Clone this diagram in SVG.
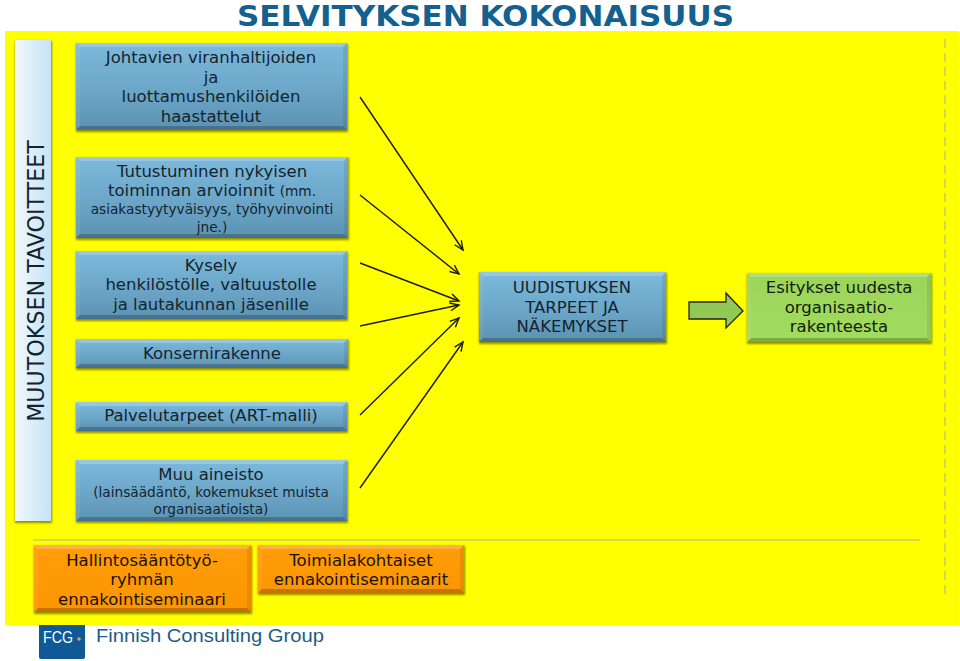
<svg xmlns="http://www.w3.org/2000/svg" width="960" height="661" viewBox="0 0 960 661">
<style>
text{font-family:"DejaVu Sans",Verdana,sans-serif;text-anchor:middle;fill:#14242e;font-size:16.5px}
.s{font-size:13.700px}
.o{fill:#1a1200}
.g{fill:#102010}
.c line{stroke:#1c1c08;stroke-width:1.400;fill:none;marker-end:url(#ah)}
.sh{fill:#000;opacity:.45;filter:url(#bl)}
.top{fill:#fff;opacity:.22}
.bot{fill:#000;opacity:.22}
.sd{fill:#fff;opacity:.07}
.sdd{fill:#000;opacity:.08}
</style>
<defs>
<linearGradient id="bg" x1="0" y1="0" x2="0" y2="1"><stop offset="0" stop-color="#7cb9dc"/><stop offset=".5" stop-color="#6da8ca"/><stop offset="1" stop-color="#5c92b2"/></linearGradient>
<linearGradient id="og" x1="0" y1="0" x2="0" y2="1"><stop offset="0" stop-color="#ff9d0a"/><stop offset="1" stop-color="#fb9600"/></linearGradient>
<linearGradient id="gg" x1="0" y1="0" x2="0" y2="1"><stop offset="0" stop-color="#9bd45a"/><stop offset="1" stop-color="#a2dc5e"/></linearGradient>
<linearGradient id="vg" x1="0" y1="0" x2="1" y2="0"><stop offset="0" stop-color="#f2f9fd"/><stop offset="1" stop-color="#c4e3f6"/></linearGradient>
<filter id="bl" x="-5%" y="-10%" width="110%" height="125%"><feGaussianBlur stdDeviation="1"/></filter>
<marker id="ah" markerUnits="userSpaceOnUse" markerWidth="14" markerHeight="14" refX="10" refY="7" orient="auto"><path d="M1 3L10 7L1 11" fill="none" stroke="#1c1c08" stroke-width="1.400"/></marker>
</defs>
<rect width="960" height="661" fill="#fff"/>
<rect id="panel" x="5" y="31" width="954" height="594" fill="#ffff00"/>
<text id="title" x="485.500" y="25.500" textLength="497" lengthAdjust="spacingAndGlyphs" style="font-size:27.500px;font-weight:bold;fill:#14608f">SELVITYKSEN KOKONAISUUS</text>
<line id="dash" x1="945" y1="39" x2="945" y2="597" stroke="#c8c870" stroke-width="1.500" stroke-dasharray="9 5"/>
<line id="sep" x1="33" y1="540" x2="920" y2="540" stroke="#c4d060" stroke-width="1.500"/>
<g id="n-goal">
<rect class="sh" x="15" y="41" width="37" height="482"/>
<rect x="15" y="40" width="36" height="481" fill="url(#vg)"/>
<text transform="translate(44,281) rotate(-90)" style="font-size:22.200px">MUUTOKSEN TAVOITTEET</text>
</g>
<g id="n1">
<rect class="sh" x="76" y="44" width="272" height="88"/>
<rect x="76" y="43" width="271" height="87" fill="url(#bg)"/>
<path class="top" d="M76 43H347L343 47H80Z"/><path class="bot" d="M76 130H347L343 126H80Z"/><path class="sd" d="M76 43V130L80 126V47Z"/><path class="sdd" d="M347 43V130L343 126V47Z"/>
<text x="211" y="63">Johtavien viranhaltijoiden</text><text x="211" y="83">ja</text><text x="211" y="102">luottamushenkilöiden</text><text x="211" y="122">haastattelut</text>
</g>
<g id="n2">
<rect class="sh" x="76" y="158" width="273" height="82"/>
<rect x="76" y="157" width="272" height="81" fill="url(#bg)"/>
<path class="top" d="M76 157H348L344 161H80Z"/><path class="bot" d="M76 238H348L344 234H80Z"/><path class="sd" d="M76 157V238L80 234V161Z"/><path class="sdd" d="M348 157V238L344 234V161Z"/>
<text x="212" y="177">Tutustuminen nykyisen</text><text x="212" y="196">toiminnan arvioinnit <tspan class="s">(mm.</tspan></text><text class="s" x="212" y="214">asiakastyytyväisyys, työhyvinvointi</text><text class="s" x="212" y="232">jne.)</text>
</g>
<g id="n3">
<rect class="sh" x="76" y="252" width="272" height="69"/>
<rect x="76" y="251" width="271" height="68" fill="url(#bg)"/>
<path class="top" d="M76 251H347L343 255H80Z"/><path class="bot" d="M76 319H347L343 315H80Z"/><path class="sd" d="M76 251V319L80 315V255Z"/><path class="sdd" d="M347 251V319L343 315V255Z"/>
<text x="211" y="271">Kysely</text><text x="211" y="290">henkilöstölle, valtuustolle</text><text x="211" y="310">ja lautakunnan jäsenille</text>
</g>
<g id="n4">
<rect class="sh" x="76" y="340" width="273" height="30"/>
<rect x="76" y="339" width="272" height="29" fill="url(#bg)"/>
<path class="top" d="M76 339H348L344 343H80Z"/><path class="bot" d="M76 368H348L344 364H80Z"/><path class="sd" d="M76 339V368L80 364V343Z"/><path class="sdd" d="M348 339V368L344 364V343Z"/>
<text x="212" y="359">Konsernirakenne</text>
</g>
<g id="n5">
<rect class="sh" x="76" y="403" width="272" height="30"/>
<rect x="76" y="402" width="271" height="29" fill="url(#bg)"/>
<path class="top" d="M76 402H347L343 406H80Z"/><path class="bot" d="M76 431H347L343 427H80Z"/><path class="sd" d="M76 402V431L80 427V406Z"/><path class="sdd" d="M347 402V431L343 427V406Z"/>
<text x="211" y="421">Palvelutarpeet (ART-malli)</text>
</g>
<g id="n6">
<rect class="sh" x="76" y="461" width="272" height="62"/>
<rect x="76" y="460" width="271" height="61" fill="url(#bg)"/>
<path class="top" d="M76 460H347L343 464H80Z"/><path class="bot" d="M76 521H347L343 517H80Z"/><path class="sd" d="M76 460V521L80 517V464Z"/><path class="sdd" d="M347 460V521L343 517V464Z"/>
<text x="211" y="480">Muu aineisto</text><text class="s" x="211" y="497">(lainsäädäntö, kokemukset muista</text><text class="s" x="211" y="514">organisaatioista)</text>
</g>
<g id="n7">
<rect class="sh" x="479" y="273" width="188" height="71"/>
<rect x="479" y="272" width="187" height="70" fill="url(#bg)"/>
<path class="top" d="M479 272H666L662 276H483Z"/><path class="bot" d="M479 342H666L662 338H483Z"/><path class="sd" d="M479 272V342L483 338V276Z"/><path class="sdd" d="M666 272V342L662 338V276Z"/>
<text x="572" y="293">UUDISTUKSEN</text><text x="572" y="313">TARPEET JA</text><text x="572" y="332">NÄKEMYKSET</text>
</g>
<g id="n8">
<rect class="sh" x="747" y="274" width="185" height="70"/>
<rect x="747" y="273" width="184" height="69" fill="url(#gg)"/>
<path class="top" d="M747 273H931L927 277H751Z"/><path class="bot" d="M747 342H931L927 338H751Z"/><path class="sd" d="M747 273V342L751 338V277Z"/><path class="sdd" d="M931 273V342L927 338V277Z"/>
<text class="g" x="839" y="293">Esitykset uudesta</text><text class="g" x="839" y="313">organisaatio-</text><text class="g" x="839" y="332">rakenteesta</text>
</g>
<g id="n9">
<rect class="sh" x="34" y="546" width="218" height="68"/>
<rect x="34" y="545" width="217" height="67" fill="url(#og)"/>
<path class="top" d="M34 545H251L247 549H38Z"/><path class="bot" d="M34 612H251L247 608H38Z"/><path class="sd" d="M34 545V612L38 608V549Z"/><path class="sdd" d="M251 545V612L247 608V549Z"/>
<text class="o" x="142" y="566">Hallintosääntötyö-</text><text class="o" x="142" y="585">ryhmän</text><text class="o" x="142" y="605">ennakointiseminaari</text>
</g>
<g id="n10">
<rect class="sh" x="258" y="546" width="207" height="49"/>
<rect x="258" y="545" width="206" height="48" fill="url(#og)"/>
<path class="top" d="M258 545H464L460 549H262Z"/><path class="bot" d="M258 593H464L460 589H262Z"/><path class="sd" d="M258 545V593L262 589V549Z"/><path class="sdd" d="M464 545V593L460 589V549Z"/>
<text class="o" x="361" y="566">Toimialakohtaiset</text><text class="o" x="361" y="585">ennakointiseminaarit</text>
</g>
<g id="connectors" class="c">
<line x1="360" y1="97" x2="463" y2="250"/>
<line x1="360" y1="195" x2="459" y2="274"/>
<line x1="360" y1="263" x2="459" y2="301"/>
<line x1="360" y1="326" x2="459" y2="305"/>
<line x1="360" y1="415" x2="459" y2="318"/>
<line x1="360" y1="488" x2="463" y2="342"/>
</g>
<path id="big-arrow" d="M689 302H726V293L743 311L726 328V319H689Z" fill="#92c955" stroke="#222" stroke-width="1.300"/>
<g id="logo">
<path d="M39 625H85V657Q85 659 83 659H41Q39 659 39 657Z" fill="#0f5a96"/>
<text x="58" y="643" textLength="30" lengthAdjust="spacingAndGlyphs" style="font-family:'Liberation Sans',sans-serif;font-size:17px;fill:#fff">FCG</text>
<circle cx="79" cy="639" r="1.800" fill="#d9a54a"/>
<text x="210" y="642" style="font-family:'Liberation Sans',sans-serif;font-size:17.500px;fill:#1e5c84" textLength="228" lengthAdjust="spacingAndGlyphs">Finnish Consulting Group</text>
</g>
</svg>
